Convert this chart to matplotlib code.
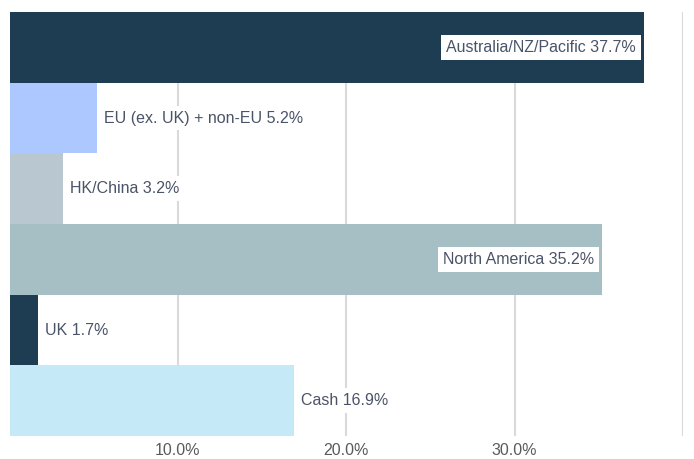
import numpy as np
import matplotlib
matplotlib.use('Agg')
from matplotlib import pyplot as plt

plt.rcParams['font.family'] = ['Liberation Sans', 'DejaVu Sans']

regions = ['Australia/NZ/Pacific', 'EU (ex. UK) + non-EU', 'HK/China',
           'North America', 'UK', 'Cash']
weights = [37.7, 5.2, 3.2, 35.2, 1.7, 16.9]
colors = ['#1f3d52', '#adc8ff', '#b9c7d0', '#a6bfc4', '#1f3d52', '#c5e9f7']
ticks = [0, 10, 20, 30, 40]
tick_labels = ['', '10.0%', '20.0%', '30.0%', '']

fig = plt.figure(figsize=(6.94, 4.59), dpi=100)
ax = fig.add_axes([0.0137, 0.0501, 0.9705, 0.9237])

y = np.arange(len(regions))
ax.barh(y, weights, height=1.0, color=colors, zorder=2)

ax.set_xlim(0, 40)
ax.set_ylim(len(regions) - 0.5, -0.5)
ax.set_xticks(ticks)
ax.set_xticklabels(tick_labels, fontsize=11.5, color='#5a5a5a')
ax.set_yticks([])
ax.tick_params(axis='x', length=0, pad=5)
ax.grid(axis='x', color='#d9d9d9', linewidth=1.5, zorder=0)
for s in ax.spines.values():
	s.set_visible(False)

box = dict(boxstyle='square,pad=0.3', fc='white', ec='none')
for i, (name, w) in enumerate(zip(regions, weights)):
	label = '{} {:.1f}%'.format(name, w)
	if w > 30:
		ax.annotate(label, (w, i), xytext=(-6, 0), textcoords='offset points',
					ha='right', va='center', fontsize=11.5, color='#4a5468',
					bbox=box, zorder=3)
	else:
		ax.annotate(label, (w, i), xytext=(5, 0), textcoords='offset points',
					ha='left', va='center', fontsize=11.5, color='#4a5468',
					bbox=box, zorder=3)

fig.savefig('out.png', dpi=100)
